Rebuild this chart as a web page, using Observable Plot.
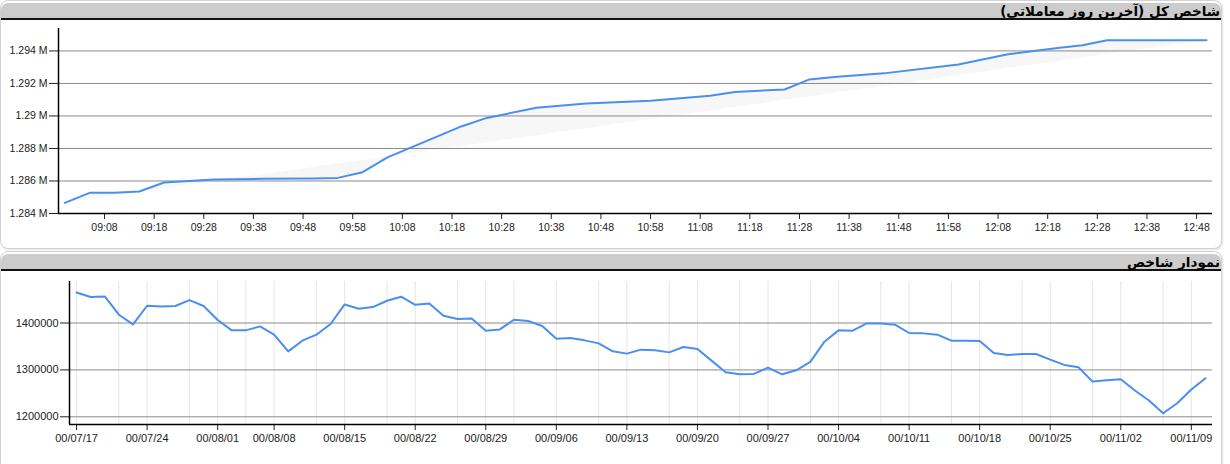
<!DOCTYPE html>
<html><head><meta charset="utf-8">
<script src="https://cdn.jsdelivr.net/npm/d3@7"></script>
<script src="https://cdn.jsdelivr.net/npm/@observablehq/plot@0.6"></script>
<style>
body{margin:0;background:#fff;font-family:"Liberation Sans",Arial,sans-serif;width:1230px;height:464px;overflow:hidden;position:relative;}
.panel{position:absolute;left:0;width:1222px;border:1px solid #d2d2d2;border-radius:8px;box-sizing:border-box;background:#fff;box-shadow:1px 1px 2px rgba(0,0,0,0.12);}
#p1{top:0;height:249px;}
#p2{top:251px;height:240px;}
.hdr{position:absolute;left:0;right:0;top:2px;height:15px;background:#cccccc;border-bottom:2px solid #111;border-radius:7px 7px 0 0;direction:rtl;text-align:right;font-family:"DejaVu Sans",sans-serif;font-weight:bold;font-size:13.5px;line-height:16px;color:#000;padding-right:1px;white-space:nowrap;}
.chart{position:absolute;left:0;}
</style></head>
<body>
<div class="panel" id="p1"><div class="hdr">شاخص کل (آخرین روز معاملاتی)</div></div>
<div class="panel" id="p2"><div class="hdr">نمودار شاخص</div></div>
<div class="chart" id="c1" style="top:20px"></div>
<div class="chart" id="c2" style="top:272px"></div>
<script>
// ---- Top chart: last trading day (intraday) ----
const topTimes = ["09:00","09:05","09:10","09:15","09:20","09:30","09:40","09:50","09:55","10:00","10:05","10:20","10:25","10:35","10:45","10:58","11:10","11:15","11:25","11:30","11:35","11:45","12:00","12:10","12:20","12:25","12:30","12:50"];
const topValues = [1284650,1285270,1285270,1285350,1285910,1286090,1286130,1286150,1286190,1286540,1287450,1289370,1289880,1290500,1290770,1290930,1291240,1291480,1291630,1292250,1292400,1292620,1293170,1293790,1294180,1294350,1294660,1294660];
const topTickLabels = ["09:08","09:18","09:28","09:38","09:48","09:58","10:08","10:18","10:28","10:38","10:48","10:58","11:08","11:18","11:28","11:38","11:48","11:58","12:08","12:18","12:28","12:38","12:48"];
const topYTicks = [1284000,1286000,1288000,1290000,1292000,1294000];

// ---- Bottom chart: index history ----
const bottomValues = [1465100,1455300,1456600,1417700,1397000,1436800,1435300,1436200,1448900,1436200,
  1406400,1384300,1384300,1392800,1375100,1339600,1362300,1375100,1397900,1439600,
  1430400,1434000,1447400,1456000,1438900,1441700,1415500,1408500,1409800,1383600,
  1386400,1407000,1404300,1393600,1366600,1368100,1363000,1356600,1339600,1334700,
  1343200,1341700,1337400,1348900,1344700,1319800,1294900,1290600,1291500,1304900,
  1290600,1299100,1317000,1360200,1384300,1383600,1399100,1399100,1396400,1378700,
  1377900,1375100,1362300,1362300,1361700,1336200,1331900,1334000,1334000,1321900,
  1310600,1305500,1275100,1277900,1280000,1256000,1234700,1207700,1228900,1258100,1282200];
const bottomTickLabels = ["00/07/17","00/07/24","00/08/01","00/08/08","00/08/15","00/08/22","00/08/29","00/09/06","00/09/13","00/09/20","00/09/27","00/10/04","00/10/11","00/10/18","00/10/25","00/11/02","00/11/09"];
const bottomTickDay = [0,5,10,14,19,24,29,34,39,44,49,54,59,64,69,74,79];
const bottomGridDay = [0,3,5,8,10,12,14,17,19,22,24,27,29,31,34,37,39,42,44,47,49,52,54,57,59,62,64,67,69,72,74,77,79];
const bottomYTicks = [1200000,1300000,1400000];

const parseT = s => { const [h,m] = s.split(":").map(Number); return new Date(2021,10,29,h,m); };
const topData = topTimes.map((s,i) => ({t: parseT(s), v: topValues[i]}));
const t0 = +topData[0].t, tN = +topData[topData.length-1].t, v0 = topData[0].v, vN = topData[topData.length-1].v;
topData.forEach(d => d.base = v0 + (vN - v0) * (+d.t - t0) / (tN - t0));

const lineColor = "#4a8ff0";
const xDomTop = [new Date(2021,10,29,8,58,44), new Date(2021,10,29,12,51,12)];
const yDomTop = [1284000, 1295380];

const c1 = Plot.plot({
  width: 1222, height: 226,
  marginLeft: 58, marginRight: 10, marginTop: 8, marginBottom: 33,
  style: {fontSize: "10.5px", fontFamily: "Liberation Sans, Arial, sans-serif", color: "#222", background: "transparent"},
  x: {type: "time", domain: xDomTop, ticks: topTickLabels.map(parseT), tickFormat: d3.timeFormat("%H:%M"), tickSize: 6, tickPadding: 4, label: null},
  y: {domain: yDomTop, ticks: topYTicks, tickFormat: v => (+(v/1e6).toFixed(3)) + " M", tickSize: 9, tickPadding: 2, label: null},
  marks: [
    Plot.areaY(topData, {x: "t", y1: "base", y2: "v", fill: "#f7f7f7"}),
    Plot.ruleY(topYTicks, {stroke: "#8a8a8a", strokeWidth: 1}),
    Plot.line(topData, {x: "t", y: "v", stroke: lineColor, strokeWidth: 2}),
    Plot.ruleX([xDomTop[0]], {stroke: "#000", strokeWidth: 1.5}),
    Plot.ruleY([yDomTop[0]], {stroke: "#000", strokeWidth: 1.5})
  ]
});
document.getElementById("c1").appendChild(c1);

const bottomData = bottomValues.map((v,i) => ({i, v}));
const yDomBot = [1183600, 1488500];
const c2 = Plot.plot({
  width: 1222, height: 192,
  marginLeft: 69, marginRight: 10, marginTop: 9, marginBottom: 40,
  style: {fontSize: "11px", fontFamily: "Liberation Sans, Arial, sans-serif", color: "#222", background: "transparent"},
  x: {domain: [-0.5, 80.5], ticks: bottomTickDay, tickFormat: i => bottomTickLabels[bottomTickDay.indexOf(i)], tickSize: 6, tickPadding: 4, label: null},
  y: {domain: yDomBot, ticks: bottomYTicks, tickFormat: d3.format("d"), tickSize: 9, tickPadding: 2, label: null},
  marks: [
    Plot.ruleX(bottomGridDay, {stroke: "#e6e6e6", strokeWidth: 1}),
    Plot.ruleY(bottomYTicks, {stroke: "#8a8a8a", strokeWidth: 1}),
    Plot.line(bottomData, {x: "i", y: "v", stroke: lineColor, strokeWidth: 2}),
    Plot.ruleX([-0.5], {stroke: "#000", strokeWidth: 1.5}),
    Plot.ruleY([yDomBot[0]], {stroke: "#000", strokeWidth: 1.5})
  ]
});
document.getElementById("c2").appendChild(c2);
</script>
</body></html>
